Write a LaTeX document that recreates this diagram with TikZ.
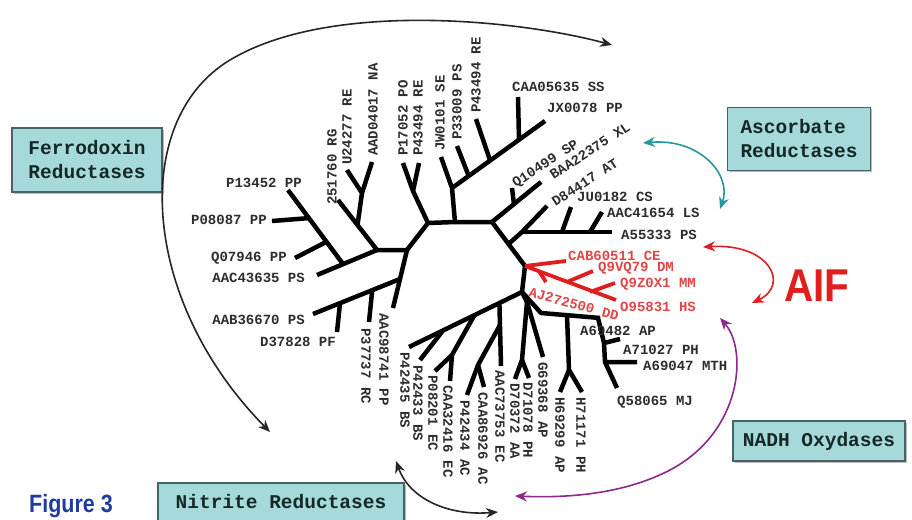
\documentclass[tikz,border=0pt]{standalone}
\usepackage{fontspec}
\newfontfamily\monof{Liberation Mono}
\newfontfamily\sansf{Liberation Sans}
\usetikzlibrary{arrows.meta,shadows}
\definecolor{boxfill}{RGB}{166,218,218}
\definecolor{boxline}{RGB}{70,100,100}
\definecolor{boxtext}{RGB}{20,40,40}
\definecolor{tealarr}{RGB}{40,150,160}
\definecolor{aifred}{RGB}{225,30,30}
\definecolor{labred}{RGB}{225,70,70}
\definecolor{purparr}{RGB}{140,40,140}
\definecolor{figblue}{RGB}{30,60,160}
\definecolor{labgray}{RGB}{45,45,45}
\begin{document}
\begin{tikzpicture}[x=1pt,y=-1pt,
  br/.style={line width=4.5pt,line join=round},
  redbr/.style={br,draw=aifred,line width=3.8pt},
  leaf/.style={font=\monof\bfseries\fontsize{14}{15}\selectfont,text=labgray,inner sep=0pt},
  leafup/.style={leaf,rotate=90,anchor=west},
  leafdn/.style={leaf,rotate=-90,anchor=west},
  leafr/.style={leaf,anchor=west},
  redleaf/.style={leafr,text=labred},
  boxst/.style={draw=boxline,fill=boxfill,line width=1.4pt,
    font=\monof\bfseries\fontsize{19.5}{24}\selectfont,text=boxtext,align=left,
    inner sep=0pt,drop shadow={shadow xshift=1.5pt,shadow yshift=-1.5pt,fill=black!45,opacity=0.6}},
  darr/.style={line width=1.6pt,{Stealth[length=12pt,width=10pt]}-{Stealth[length=12pt,width=10pt]}}
]
\useasboundingbox (0,0) rectangle (912,519);
\fill[white] (0,0) rectangle (912,519);

% ---------- central loop ----------
\coordinate (J1) at (407,250);
\coordinate (L1) at (428,223);
\coordinate (S0) at (455,222);
\coordinate (L2) at (492,222);
\coordinate (R1) at (508.5,244);
\coordinate (L3) at (525,266);
\coordinate (L4) at (522,292);
\draw[br] (J1) -- (L1) -- (S0) -- (L2) -- (R1) -- (L3) -- (L4);

% ---------- upper-left clade ----------
\coordinate (A) at (377,250);
\coordinate (vA) at (357.5,225);
\coordinate (Vj) at (362,193);
\coordinate (lf251) at (338,200);
\coordinate (lfU24) at (347,170);
\coordinate (lfAAD) at (372,162);
\coordinate (B) at (343,264);
\coordinate (bQ) at (326.5,241.8);
\coordinate (bP) at (308.9,218.1);
\coordinate (lfAAC436) at (317,275);
\coordinate (lfP134) at (288,190);
\coordinate (lfP080) at (272,221);
\coordinate (lfQ079) at (295,258);
\draw[br] (J1) -- (A) -- (lf251);
\draw[br] (vA) -- (Vj) -- (lfU24);
\draw[br] (Vj) -- (lfAAD);
\draw[br] (A) -- (lfAAC436);
\draw[br] (B) -- (lfP134);
\draw[br] (bP) -- (lfP080);
\draw[br] (bQ) -- (lfQ079);

% ---------- lower-left clade ----------
\coordinate (C) at (400,279);
\coordinate (lfAAC987) at (393,308);
\coordinate (lfAAB) at (313,314);
\coordinate (cP) at (372.2,290.2);
\coordinate (cD) at (340,303.2);
\coordinate (lfP377) at (369,322);
\coordinate (lfD378) at (337,332);
\draw[br] (J1) -- (C) -- (lfAAC987);
\draw[br] (C) -- (lfAAB);
\draw[br] (cP) -- (lfP377);
\draw[br] (cD) -- (lfD378);

% ---------- top clade ----------
\coordinate (Tj) at (413,191);
\coordinate (lfP170) at (403,163);
\coordinate (lfP434a) at (419,163);
\coordinate (T1) at (452,188);
\coordinate (lfJW) at (441,157);
\coordinate (lfJX) at (545,121);
\coordinate (tP33) at (468.7,175.9);
\coordinate (tP43) at (490.1,160.5);
\coordinate (tCA) at (519,139.8);
\coordinate (lfP330) at (457,146);
\coordinate (lfP434b) at (476,119);
\coordinate (lfCAA) at (518,97);
\draw[br] (L1) -- (Tj) -- (lfP170);
\draw[br] (Tj) -- (lfP434a);
\draw[br] (S0) -- (T1) -- (lfJW);
\draw[br] (T1) -- (lfJX);
\draw[br] (tP33) -- (lfP330);
\draw[br] (tP43) -- (lfP434b);
\draw[br] (tCA) -- (lfCAA);

% ---------- upper-right clade ----------
\coordinate (lfBAA) at (541,182);
\coordinate (qB) at (514,204);
\coordinate (lfQ10) at (512,188);
\draw[br] (L2) -- (lfBAA);
\draw[br] (qB) -- (lfQ10);
\coordinate (R2) at (522,232);
\coordinate (lfD84) at (547,206);
\coordinate (lfA553) at (612,232);
\coordinate (hJ) at (562,232);
\coordinate (hA) at (590,232);
\coordinate (lfJU) at (571,207);
\coordinate (lfAAC416) at (602,212);
\draw[br] (R1) -- (R2) -- (lfD84);
\draw[br] (R2) -- (lfA553);
\draw[br] (hJ) -- (lfJU);
\draw[br] (hA) -- (lfAAC416);

% ---------- red AIF clade ----------
\coordinate (lfCAB) at (566,261);
\coordinate (lfO95) at (616,300);
\coordinate (rQ9V) at (567,282);
\coordinate (rQ9Z) at (590,292);
\coordinate (rAJ) at (539.6,272.2);
\coordinate (lfQ9V) at (593,271);
\coordinate (lfQ9Z) at (615,283);
\coordinate (lfAJ) at (546,282);
\draw[redbr] (L3) -- (lfCAB);
\draw[redbr] (L3) -- (lfO95);
\draw[redbr] (rQ9V) -- (lfQ9V);
\draw[redbr] (rQ9Z) -- (lfQ9Z);
\draw[redbr] (rAJ) -- (lfAJ);

% ---------- bottom-middle clade ----------
\coordinate (lfP4235) at (409,347);
\coordinate (mA) at (474.5,315);
\coordinate (mB) at (443,330.5);
\coordinate (mC) at (499.4,303);
\coordinate (lfP4233) at (420,360);
\coordinate (mD) at (452,355);
\coordinate (lfP082) at (435,371);
\coordinate (lfCAA324) at (450,381);
\coordinate (lfAAC737) at (501,366);
\coordinate (mF) at (500,325);
\coordinate (mE) at (478,365);
\coordinate (lfP4234) at (467,395);
\coordinate (lfCAA869) at (484,387);
\draw[br] (L4) -- (lfP4235);
\draw[br] (mB) -- (lfP4233);
\draw[br] (mA) -- (mD) -- (lfP082);
\draw[br] (mD) -- (lfCAA324);
\draw[br] (mC) -- (lfAAC737);
\draw[br] (mF) -- (mE) -- (lfP4234);
\draw[br] (mE) -- (lfCAA869);

% ---------- bottom-right clade ----------
\coordinate (nA) at (527,302);
\coordinate (lfG693) at (543,357);
\coordinate (nB) at (522,360);
\coordinate (lfD703) at (515,379);
\coordinate (lfD710) at (529,378);
\coordinate (nC) at (541,313);
\coordinate (lfA694) at (600,318);
\coordinate (nD) at (567,315);
\coordinate (nE) at (569,370);
\coordinate (lfH692) at (560,392);
\coordinate (lfH711) at (582,392);
\coordinate (nF) at (598,318);
\coordinate (nG) at (604,343);
\coordinate (lfA710) at (620,339);
\coordinate (nH) at (605,362);
\coordinate (lfA690) at (637,362);
\coordinate (lfQ580) at (617,388);
\draw[br] (L4) -- (nA) -- (lfG693);
\draw[br] (nA) -- (nB) -- (lfD703);
\draw[br] (nB) -- (lfD710);
\draw[br] (L4) -- (nC) -- (lfA694);
\draw[br] (nD) -- (nE) -- (lfH692);
\draw[br] (nE) -- (lfH711);
\draw[br] (nF) -- (nG) -- (lfA710);
\draw[br] (nG) -- (nH) -- (lfA690);
\draw[br] (nH) -- (lfQ580);

% ---------- leaf labels ----------
\node[leaf,anchor=east] (tP134) at (302,183) {P13452 PP};
\node[leaf,anchor=east] (tP080) at (267,220) {P08087 PP};
\node[leaf,anchor=east] (tQ079) at (287,258) {Q07946 PP};
\node[leaf,anchor=east] (tAAC436) at (305,278) {AAC43635 PS};
\node[leaf,anchor=east] (tAAB) at (305,320) {AAB36670 PS};
\node[leaf,anchor=east] (tD378) at (336,342) {D37828 PF};

\node[leafup] (t251) at (332,205) {251760 RG};
\node[leafup] (tU24) at (347,165) {U24277 RE};
\node[leafup] (tAAD) at (373,156) {AAD04017 NA};
\node[leafup] (tP170) at (403,156) {P17052 PO};
\node[leafup] (tP434a) at (418,156) {P43494 RE};
\node[leafup] (tJW) at (440,151) {JW0101 SE};
\node[leafup] (tP330) at (457,140) {P33009 PS};
\node[leafup] (tP434b) at (476,113) {P43494 RE};

\node[leafr] (tCAA) at (512,87) {CAA05635 SS};
\node[leafr] (tJX) at (547,108) {JX0078 PP};
\node[leafr,rotate=33] (tQ10) at (514,185) {Q10499 SP};
\node[leafr,rotate=33] (tBAA) at (551,176) {BAA22375 XL};
\node[leafr,rotate=33] (tD84) at (553,203) {D84417 AT};
\node[leafr] (tJU) at (577,197) {JU0182 CS};
\node[leafr] (tAAC416) at (607,213) {AAC41654 LS};
\node[leafr] (tA553) at (621,235) {A55333 PS};

\node[redleaf] (tCAB) at (568,256) {CAB60511 CE};
\node[redleaf] (tQ9V) at (598,268) {Q9VQ79 DM};
\node[redleaf] (tQ9Z) at (620,284) {Q9Z0X1 MM};
\node[redleaf] (tO95) at (620,307) {O95831 HS};
\node[redleaf,rotate=-15] (tAJ) at (529,292) {AJ272500 DD};

\node[leafr] (tA694) at (580,331) {A69482 AP};
\node[leafr] (tA710) at (623,350) {A71027 PH};
\node[leafr] (tA690) at (643,366) {A69047 MTH};
\node[leafr] (tQ580) at (617,402) {Q58065 MJ};

\node[leafdn] (tP377) at (366,328) {P37737 RC};
\node[leafdn] (tAAC987) at (384,313) {AAC98741 PP};
\node[leafdn] (tP4235) at (405,352) {P42435 BS};
\node[leafdn] (tP4233) at (418,365) {P42433 BS};
\node[leafdn] (tP082) at (433,375) {P08201 EC};
\node[leafdn] (tCAA324) at (448,385) {CAA32416 EC};
\node[leafdn] (tP4234) at (465,400) {P42434 AC};
\node[leafdn] (tCAA869) at (483,392) {CAA86926 AC};
\node[leafdn] (tAAC737) at (500,370) {AAC73753 EC};
\node[leafdn] (tD703) at (515,383) {D70372 AA};
\node[leafdn] (tD710) at (528,382) {D71078 PH};
\node[leafdn] (tG693) at (543,362) {G69368 AP};
\node[leafdn] (tH692) at (560,397) {H69299 AP};
\node[leafdn] (tH711) at (581,397) {H71171 PH};

% ---------- boxes ----------
\node[boxst,minimum width=150pt,minimum height=64pt] (ferro) at (87,160) {Ferrodoxin\\Reductases};
\node[boxst,minimum width=143pt,minimum height=63pt] (ascor) at (799,139) {Ascorbate\\Reductases};
\node[boxst,minimum width=172pt,minimum height=40pt] (nadh) at (819,441) {NADH Oxydases};
\node[boxst,minimum width=246pt,minimum height=38pt] (nitr) at (281,502) {Nitrite Reductases};

\node[font=\sansf\bfseries\fontsize{46}{46}\selectfont,text=aifred,xscale=0.88,inner sep=0pt] (aif) at (817,286) {AIF};
\node[font=\sansf\bfseries\fontsize{25}{25}\selectfont,text=figblue,xscale=0.86,inner sep=0pt,anchor=west] (fig) at (29,506) {Figure 3};

% ---------- arrows ----------
\coordinate (fa1) at (270,432);
\coordinate (fm) at (230,60);
\coordinate (fa2) at (612,45);
\draw[darr,black!85] (fa1) .. controls (140,300) and (130,120) .. (fm) .. controls (330,0) and (520,20) .. (fa2);

\coordinate (ta1) at (643,143);
\coordinate (ta2) at (720,209);
\draw[darr,tealarr] (ta1) .. controls (700,138) and (732,175) .. (ta2);

\coordinate (ra1) at (703,247);
\coordinate (ra2) at (752,303);
\draw[darr,aifred] (ra1) .. controls (770,243) and (790,285) .. (ra2);

\coordinate (pa1) at (720,318);
\coordinate (pm) at (670,470);
\coordinate (pa2) at (515,496);
\draw[darr,purparr] (pa1) .. controls (748,350) and (742,432) .. (pm) .. controls (622,495) and (565,498) .. (pa2);

\coordinate (na1) at (396,461);
\coordinate (na2) at (498,512);
\draw[darr,black!85] (na1) .. controls (410,500) and (450,516) .. (na2);
\end{tikzpicture}
\end{document}
